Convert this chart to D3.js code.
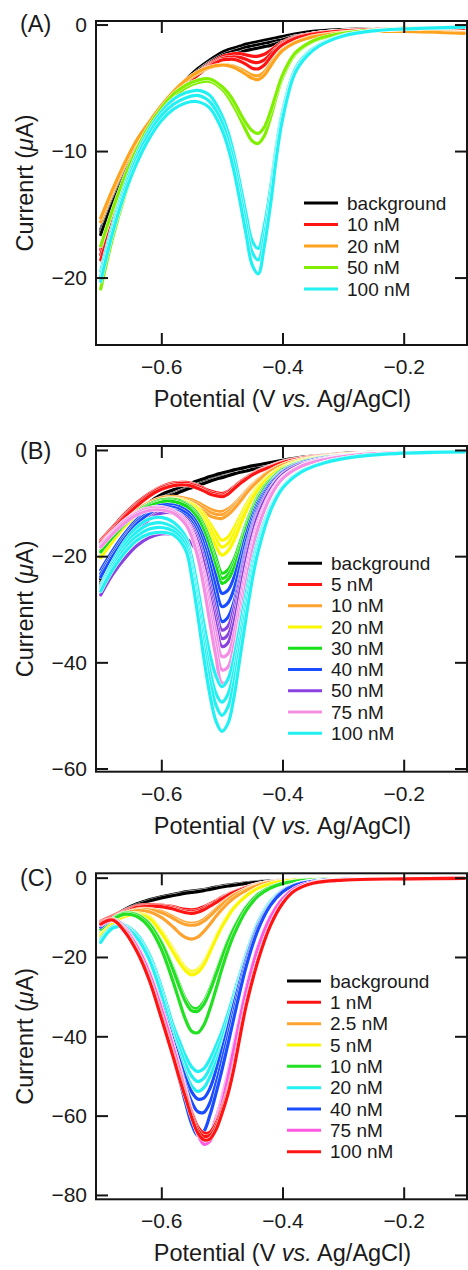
<!DOCTYPE html>
<html>
<head>
<meta charset="utf-8">
<script src="https://cdn.jsdelivr.net/npm/d3@7"></script>
<style>
  html, body { margin: 0; padding: 0; background: #fff; }
  svg { display: block; }
  text { font-family: "Liberation Sans", Arial, Helvetica, sans-serif; fill: #1a1a1a; }
</style>
</head>
<body>
<svg id="fig" width="468" height="1270"></svg>
<script>
// ---------- shared axis values ----------
const xLimits = [-0.7078, -0.0955];          // V vs. Ag/AgCl
const xTickValues = [-0.6, -0.4, -0.2];

// ---------- panel A : potentials (V) and current scans (µA) ----------
const potentialA = [-0.70,-0.68,-0.66,-0.64,-0.62,-0.60,-0.58,-0.56,-0.54,-0.52,-0.50,-0.49,-0.48,-0.47,-0.46,-0.45,-0.44,-0.43,-0.42,-0.41,-0.40,-0.38,-0.36,-0.34,-0.30,-0.25,-0.20,-0.10];
const namesA = ["background", "10 nM", "20 nM", "50 nM", "100 nM"];
const yTicksA = [0, -10, -20];
const scansA_bg = [
  [-16.2,-13.7,-11.5,-9.6,-8.0,-6.6,-5.4,-4.4,-3.5,-2.8,-2.2,-2.0,-1.85,-1.7,-1.55,-1.45,-1.35,-1.25,-1.15,-1.05,-0.95,-0.75,-0.6,-0.5,-0.4,-0.35,-0.3,-0.25],
  [-16.4,-13.9,-11.7,-9.8,-8.2,-6.8,-5.6,-4.6,-3.7,-3.0,-2.45,-2.25,-2.1,-1.95,-1.8,-1.7,-1.6,-1.5,-1.4,-1.3,-1.2,-0.95,-0.8,-0.65,-0.5,-0.4,-0.35,-0.3],
  [-16.6,-14.1,-11.9,-10.0,-8.4,-7.0,-5.8,-4.8,-3.9,-3.2,-2.7,-2.5,-2.35,-2.2,-2.05,-1.95,-1.85,-1.75,-1.65,-1.5,-1.4,-1.15,-0.95,-0.8,-0.6,-0.45,-0.35,-0.3]
];
const scansA_10 = [
  [-17.8,-14.9,-12.4,-10.3,-8.5,-7.0,-5.7,-4.7,-3.8,-3.1,-2.55,-2.4,-2.3,-2.3,-2.4,-2.5,-2.5,-2.35,-2.05,-1.7,-1.4,-1.0,-0.8,-0.65,-0.5,-0.4,-0.35,-0.3],
  [-18.2,-15.2,-12.6,-10.5,-8.7,-7.1,-5.8,-4.8,-3.9,-3.2,-2.7,-2.6,-2.55,-2.6,-2.75,-2.95,-3.0,-2.8,-2.35,-1.9,-1.5,-1.05,-0.8,-0.65,-0.5,-0.4,-0.35,-0.3],
  [-18.6,-15.5,-12.8,-10.7,-8.8,-7.2,-5.9,-4.9,-4.0,-3.3,-2.8,-2.75,-2.75,-2.9,-3.15,-3.45,-3.5,-3.2,-2.6,-2.0,-1.6,-1.1,-0.85,-0.7,-0.5,-0.4,-0.35,-0.3]
];
const scansA_20 = [
  [-15.6,-13.2,-11.1,-9.3,-7.8,-6.5,-5.4,-4.5,-3.85,-3.4,-3.2,-3.2,-3.3,-3.5,-3.75,-4.0,-4.05,-3.75,-3.1,-2.5,-2.0,-1.4,-1.05,-0.85,-0.6,-0.5,-0.5,-0.65],
  [-15.3,-13.0,-10.9,-9.1,-7.7,-6.4,-5.3,-4.4,-3.75,-3.35,-3.2,-3.25,-3.4,-3.65,-3.95,-4.25,-4.35,-4.0,-3.3,-2.6,-2.05,-1.45,-1.1,-0.9,-0.65,-0.55,-0.55,-0.7]
];
const scansA_50 = [
  [-20.9,-16.8,-13.5,-10.8,-8.7,-7.0,-5.8,-5.0,-4.6,-4.5,-5.1,-5.7,-6.5,-7.4,-8.4,-9.2,-9.4,-8.8,-7.4,-5.7,-4.2,-2.4,-1.6,-1.15,-0.7,-0.45,-0.3,-0.2],
  [-17.5,-14.6,-12.0,-9.8,-8.0,-6.6,-5.5,-4.8,-4.4,-4.3,-4.9,-5.4,-6.1,-7.0,-7.8,-8.4,-8.6,-8.1,-6.9,-5.4,-4.0,-2.3,-1.55,-1.1,-0.7,-0.45,-0.3,-0.2]
];
const scansA_100 = [
  [-19.5,-15.8,-12.7,-10.2,-8.3,-6.9,-5.9,-5.4,-5.2,-5.6,-7.2,-8.5,-10.3,-12.6,-15.0,-17.1,-17.7,-15.9,-13.0,-9.6,-6.9,-3.6,-2.3,-1.6,-0.85,-0.5,-0.35,-0.2],
  [-19.9,-16.1,-13.0,-10.5,-8.6,-7.2,-6.3,-5.8,-5.6,-6.1,-7.7,-9.1,-10.9,-13.3,-15.8,-18.0,-18.6,-16.7,-13.6,-10.0,-7.2,-3.8,-2.4,-1.65,-0.9,-0.5,-0.35,-0.2],
  [-20.3,-16.4,-13.3,-10.9,-9.0,-7.6,-6.7,-6.2,-6.1,-6.6,-8.3,-9.7,-11.6,-14.0,-16.6,-19.0,-19.7,-17.5,-14.3,-10.5,-7.5,-3.9,-2.5,-1.7,-0.9,-0.5,-0.35,-0.2]
];

// ---------- panel B ----------
const potentialB = [-0.70,-0.68,-0.66,-0.64,-0.62,-0.60,-0.58,-0.56,-0.55,-0.54,-0.53,-0.52,-0.51,-0.50,-0.49,-0.48,-0.47,-0.46,-0.45,-0.44,-0.42,-0.40,-0.37,-0.33,-0.28,-0.20,-0.10];
const namesB = ["background", "5 nM", "10 nM", "20 nM", "30 nM", "40 nM", "50 nM", "75 nM", "100 nM"];
const yTicksB = [0, -20, -40, -60];
const scansB_bg = [
  [-24.8,-20.5,-16.5,-13.0,-10.3,-8.8,-7.9,-7.0,-6.6,-6.2,-5.8,-5.4,-5.0,-4.7,-4.4,-4.1,-3.8,-3.55,-3.3,-3.05,-2.55,-2.1,-1.5,-1.0,-0.6,-0.35,-0.25],
  [-25.3,-21.0,-17.0,-13.5,-10.8,-9.3,-8.4,-7.5,-7.1,-6.7,-6.3,-5.9,-5.5,-5.2,-4.85,-4.5,-4.2,-3.95,-3.65,-3.35,-2.8,-2.3,-1.6,-1.05,-0.65,-0.35,-0.25],
  [-24.3,-20.0,-16.0,-12.5,-9.9,-8.4,-7.5,-6.6,-6.2,-5.8,-5.4,-5.0,-4.65,-4.35,-4.05,-3.75,-3.5,-3.25,-3.0,-2.8,-2.35,-1.95,-1.4,-0.95,-0.55,-0.3,-0.25]
];
const scansB_5 = [
  [-17.0,-14.5,-12.0,-9.9,-8.2,-6.9,-6.2,-6.1,-6.3,-6.7,-7.2,-7.7,-8.0,-8.2,-7.8,-6.9,-6.0,-5.2,-4.5,-3.9,-3.0,-2.2,-1.5,-1.0,-0.6,-0.35,-0.25],
  [-17.3,-14.8,-12.3,-10.2,-8.4,-7.1,-6.4,-6.3,-6.5,-6.9,-7.4,-8.0,-8.3,-8.5,-8.0,-7.0,-6.1,-5.3,-4.6,-4.0,-3.1,-2.3,-1.6,-1.05,-0.65,-0.35,-0.25],
  [-17.6,-15.1,-12.6,-10.5,-8.7,-7.4,-6.7,-6.6,-6.8,-7.2,-7.7,-8.3,-8.6,-8.8,-8.3,-7.3,-6.3,-5.5,-4.7,-4.1,-3.2,-2.35,-1.6,-1.05,-0.65,-0.35,-0.25]
];
const scansB_10 = [
  [-19.2,-16.2,-13.5,-11.4,-9.9,-9.0,-8.8,-9.1,-9.4,-9.9,-10.5,-11.1,-11.5,-11.6,-11.1,-10.2,-9.0,-7.7,-6.5,-5.5,-3.85,-2.75,-1.8,-1.15,-0.7,-0.4,-0.25],
  [-19.5,-16.5,-13.8,-11.7,-10.2,-9.3,-9.1,-9.4,-9.8,-10.3,-11.0,-11.7,-12.1,-12.2,-11.6,-10.6,-9.3,-7.9,-6.7,-5.6,-3.9,-2.8,-1.8,-1.15,-0.7,-0.4,-0.25],
  [-19.8,-16.8,-14.1,-12.0,-10.5,-9.6,-9.4,-9.7,-10.2,-10.8,-11.6,-12.4,-12.8,-12.9,-12.2,-11.1,-9.7,-8.2,-6.9,-5.8,-4.0,-2.85,-1.85,-1.2,-0.7,-0.4,-0.25]
];
const scansB_20 = [
  [-19.8,-16.7,-13.9,-11.8,-10.3,-9.4,-9.2,-9.6,-10.1,-10.9,-12.1,-13.8,-15.6,-17.0,-16.4,-14.7,-12.5,-10.3,-8.4,-6.8,-4.6,-3.2,-2.0,-1.25,-0.75,-0.4,-0.25],
  [-20.0,-16.9,-14.1,-12.0,-10.5,-9.6,-9.4,-9.8,-10.4,-11.3,-12.7,-14.6,-16.8,-18.3,-17.6,-15.8,-13.3,-10.9,-8.8,-7.1,-4.7,-3.25,-2.0,-1.25,-0.75,-0.4,-0.25],
  [-20.3,-17.2,-14.4,-12.3,-10.8,-9.9,-9.7,-10.1,-10.8,-11.8,-13.4,-15.6,-18.1,-19.8,-19.0,-17.0,-14.2,-11.5,-9.2,-7.4,-4.9,-3.35,-2.05,-1.3,-0.75,-0.4,-0.25]
];
const scansB_30 = [
  [-18.8,-16.0,-13.5,-11.6,-10.2,-9.4,-9.3,-10.0,-10.8,-12.1,-14.1,-16.9,-20.2,-23.2,-22.6,-20.6,-17.4,-13.9,-11.0,-8.6,-5.5,-3.6,-2.2,-1.35,-0.8,-0.45,-0.3],
  [-19.0,-16.2,-13.7,-11.8,-10.4,-9.6,-9.5,-10.2,-11.1,-12.5,-14.7,-17.7,-21.2,-24.2,-23.5,-21.4,-18.1,-14.4,-11.4,-8.9,-5.7,-3.7,-2.25,-1.35,-0.8,-0.45,-0.3],
  [-19.2,-16.4,-13.9,-12.0,-10.6,-9.8,-9.7,-10.5,-11.4,-12.9,-15.2,-18.4,-22.0,-25.1,-24.4,-22.2,-18.8,-14.9,-11.8,-9.2,-5.8,-3.75,-2.3,-1.4,-0.8,-0.45,-0.3]
];
const scansB_40 = [
  [-22.6,-18.9,-15.7,-13.1,-11.3,-10.4,-10.4,-11.3,-12.3,-14.0,-16.6,-20.0,-23.8,-27.0,-26.4,-24.0,-20.2,-16.0,-12.6,-9.8,-6.2,-4.0,-2.45,-1.45,-0.85,-0.45,-0.3],
  [-23.3,-19.5,-16.2,-13.5,-11.7,-10.8,-10.8,-11.8,-12.9,-14.8,-17.7,-21.6,-25.9,-29.5,-28.8,-26.2,-21.9,-17.2,-13.4,-10.3,-6.4,-4.1,-2.5,-1.5,-0.85,-0.45,-0.3],
  [-23.9,-20.0,-16.6,-13.9,-12.1,-11.2,-11.3,-12.4,-13.6,-15.7,-19.0,-23.4,-28.2,-32.3,-31.5,-28.6,-23.8,-18.5,-14.3,-10.9,-6.7,-4.25,-2.55,-1.5,-0.85,-0.45,-0.3]
];
const scansB_50 = [
  [-26.6,-22.1,-18.2,-15.0,-12.8,-11.6,-11.6,-12.8,-14.2,-16.6,-20.3,-25.1,-30.0,-33.9,-33.2,-29.7,-24.4,-19.1,-14.8,-11.4,-7.1,-4.5,-2.7,-1.6,-0.9,-0.5,-0.3],
  [-27.0,-22.5,-18.6,-15.4,-13.1,-11.9,-11.9,-13.2,-14.7,-17.3,-21.2,-26.3,-31.4,-35.5,-34.8,-31.1,-25.5,-19.9,-15.3,-11.8,-7.3,-4.6,-2.75,-1.6,-0.9,-0.5,-0.3],
  [-27.3,-23.4,-20.4,-18.0,-16.5,-15.8,-15.9,-16.6,-17.6,-19.5,-22.8,-27.5,-32.7,-37.0,-36.3,-32.5,-26.6,-20.7,-15.9,-12.2,-7.5,-4.7,-2.8,-1.65,-0.9,-0.5,-0.3]
];
const scansB_75 = [
  [-17.8,-15.3,-13.2,-11.7,-10.9,-10.8,-11.4,-13.2,-15.1,-18.3,-23.0,-28.8,-34.4,-38.9,-38.4,-34.6,-28.6,-22.5,-17.4,-13.4,-8.2,-5.1,-3.0,-1.75,-0.95,-0.5,-0.3],
  [-18.0,-15.5,-13.4,-11.9,-11.1,-11.0,-11.6,-13.6,-15.7,-19.2,-24.3,-30.6,-36.6,-41.4,-40.9,-36.8,-30.4,-23.8,-18.3,-14.0,-8.5,-5.25,-3.05,-1.75,-0.95,-0.5,-0.3],
  [-18.3,-15.8,-13.7,-12.2,-11.4,-11.3,-11.9,-14.0,-16.3,-20.1,-25.6,-32.4,-38.8,-43.9,-43.4,-39.0,-32.2,-25.1,-19.2,-14.6,-8.8,-5.4,-3.1,-1.8,-0.95,-0.5,-0.3]
];
const scansB_100 = [
  [-25.6,-21.0,-17.2,-14.5,-13.0,-12.7,-13.6,-16.3,-20.2,-26.0,-32.6,-38.4,-42.5,-44.6,-43.2,-39.0,-33.0,-27.0,-21.3,-16.9,-10.7,-6.9,-4.0,-2.3,-1.25,-0.6,-0.35],
  [-26.0,-21.5,-17.9,-15.4,-14.0,-13.7,-14.6,-17.2,-21.6,-28.0,-35.2,-41.4,-45.8,-47.5,-46.0,-41.6,-35.1,-28.5,-22.4,-17.6,-11.0,-7.0,-4.05,-2.3,-1.25,-0.6,-0.35],
  [-26.3,-22.0,-18.6,-16.2,-14.9,-14.6,-15.3,-18.0,-22.6,-29.5,-37.0,-43.4,-48.0,-50.0,-48.4,-43.7,-36.8,-29.8,-23.3,-18.2,-11.2,-7.1,-4.1,-2.35,-1.25,-0.6,-0.35],
  [-26.6,-22.5,-19.3,-17.0,-15.8,-15.5,-16.0,-18.8,-23.8,-31.0,-39.0,-46.0,-51.0,-53.0,-51.5,-46.5,-39.0,-31.5,-24.5,-19.0,-11.5,-7.2,-4.2,-2.4,-1.3,-0.6,-0.35]
];

// ---------- panel C ----------
const potentialC = [-0.70,-0.68,-0.66,-0.64,-0.62,-0.60,-0.58,-0.57,-0.56,-0.55,-0.54,-0.53,-0.52,-0.51,-0.50,-0.49,-0.48,-0.46,-0.44,-0.42,-0.40,-0.38,-0.35,-0.30,-0.20,-0.10];
const namesC = ["background", "1 nM", "2.5 nM", "5 nM", "10 nM", "20 nM", "40 nM", "75 nM", "100 nM"];
const yTicksC = [0, -20, -40, -60, -80];
const scansC_bg = [
  [-11.5,-9.8,-8.0,-6.6,-5.6,-4.8,-4.2,-3.9,-3.6,-3.4,-3.2,-3.0,-2.7,-2.4,-2.1,-1.9,-1.7,-1.3,-1.0,-0.8,-0.6,-0.5,-0.4,-0.3,-0.25,-0.2],
  [-11.8,-10.1,-8.3,-6.9,-5.9,-5.1,-4.5,-4.2,-3.9,-3.7,-3.5,-3.25,-2.95,-2.65,-2.35,-2.1,-1.9,-1.45,-1.1,-0.85,-0.65,-0.5,-0.4,-0.3,-0.25,-0.2]
];
const scansC_1 = [
  [-11.0,-9.6,-8.3,-7.1,-6.8,-6.9,-7.3,-7.7,-8.0,-8.1,-7.9,-7.3,-6.6,-5.8,-4.9,-4.2,-3.5,-2.4,-1.55,-1.0,-0.7,-0.5,-0.35,-0.3,-0.25,-0.2],
  [-11.2,-9.8,-8.5,-7.3,-7.0,-7.1,-7.6,-8.1,-8.5,-8.6,-8.3,-7.7,-6.9,-6.0,-5.1,-4.3,-3.6,-2.5,-1.6,-1.0,-0.7,-0.5,-0.35,-0.3,-0.25,-0.2],
  [-11.4,-10.0,-8.7,-7.5,-7.2,-7.3,-7.9,-8.4,-8.8,-9.0,-8.7,-8.1,-7.2,-6.3,-5.3,-4.4,-3.7,-2.55,-1.65,-1.05,-0.7,-0.5,-0.35,-0.3,-0.25,-0.2]
];
const scansC_2p5 = [
  [-13.5,-10.8,-8.9,-8.0,-7.9,-8.5,-9.9,-10.7,-11.3,-11.5,-11.3,-10.5,-9.3,-7.9,-6.5,-5.3,-4.3,-2.8,-1.7,-1.1,-0.75,-0.5,-0.4,-0.3,-0.25,-0.2],
  [-13.8,-11.0,-9.1,-8.2,-8.1,-8.8,-10.3,-11.2,-11.8,-12.0,-11.8,-11.0,-9.7,-8.2,-6.8,-5.5,-4.4,-2.9,-1.75,-1.1,-0.75,-0.5,-0.4,-0.3,-0.25,-0.2],
  [-14.0,-11.0,-9.0,-8.3,-8.6,-10.0,-12.5,-14.0,-15.1,-15.5,-15.0,-13.6,-11.8,-9.8,-8.0,-6.4,-5.1,-3.2,-1.9,-1.2,-0.8,-0.55,-0.4,-0.3,-0.25,-0.2]
];
const scansC_5 = [
  [-14.2,-11.1,-9.3,-9.0,-9.8,-13.3,-18.1,-20.6,-22.7,-23.7,-23.1,-21.2,-18.2,-14.9,-12.0,-9.4,-7.4,-4.4,-2.55,-1.5,-0.95,-0.6,-0.4,-0.3,-0.25,-0.2],
  [-14.5,-11.3,-9.5,-9.2,-10.0,-13.6,-18.5,-21.0,-23.1,-24.1,-23.5,-21.6,-18.5,-15.2,-12.2,-9.6,-7.5,-4.5,-2.6,-1.5,-0.95,-0.6,-0.4,-0.3,-0.25,-0.2],
  [-14.8,-11.5,-9.7,-9.4,-10.2,-13.9,-18.9,-21.4,-23.5,-24.5,-23.9,-22.0,-18.8,-15.5,-12.4,-9.8,-7.6,-4.6,-2.65,-1.55,-0.95,-0.6,-0.4,-0.3,-0.25,-0.2]
];
const scansC_10 = [
  [-12.6,-10.2,-8.9,-9.3,-11.5,-16.2,-23.0,-27.0,-30.6,-32.7,-32.9,-31.3,-28.1,-24.0,-19.8,-15.9,-12.6,-7.4,-4.1,-2.35,-1.4,-0.85,-0.5,-0.35,-0.25,-0.2],
  [-12.8,-10.3,-9.0,-9.4,-11.7,-16.5,-23.5,-27.6,-31.3,-33.5,-33.7,-32.0,-28.7,-24.5,-20.2,-16.2,-12.8,-7.5,-4.2,-2.4,-1.4,-0.85,-0.5,-0.35,-0.25,-0.2],
  [-13.0,-10.5,-9.2,-9.8,-12.5,-18.0,-26.5,-31.3,-35.8,-38.7,-39.1,-37.2,-33.2,-28.2,-23.0,-18.3,-14.3,-8.3,-4.6,-2.6,-1.5,-0.9,-0.55,-0.35,-0.25,-0.2]
];
const scansC_20 = [
  [-15.5,-12.3,-12.0,-14.3,-19.3,-27.5,-37.5,-41.3,-45.0,-47.7,-48.9,-48.2,-45.8,-42.5,-38.8,-34.3,-29.3,-19.3,-11.1,-5.9,-3.1,-1.65,-0.8,-0.4,-0.25,-0.2],
  [-16.0,-12.5,-12.3,-14.8,-20.0,-28.5,-39.0,-43.0,-47.0,-50.0,-51.4,-50.6,-48.0,-44.5,-40.6,-35.8,-30.5,-20.0,-11.5,-6.1,-3.2,-1.7,-0.8,-0.4,-0.25,-0.2],
  [-16.3,-12.7,-12.5,-15.2,-20.6,-29.5,-40.5,-44.8,-49.2,-52.5,-53.9,-53.0,-50.3,-46.6,-42.5,-37.4,-31.8,-20.8,-12.0,-6.3,-3.3,-1.75,-0.85,-0.4,-0.25,-0.2]
];
const scansC_40 = [
  [-12.2,-10.5,-12.4,-17.0,-23.5,-32.0,-41.3,-46.0,-50.5,-54.0,-55.8,-55.6,-53.2,-48.8,-43.5,-37.8,-31.8,-20.6,-12.0,-6.6,-3.4,-1.8,-0.9,-0.45,-0.25,-0.2],
  [-12.3,-10.6,-12.6,-17.3,-24.0,-32.8,-42.5,-47.5,-52.5,-56.5,-59.0,-59.2,-56.8,-52.0,-46.2,-40.0,-33.5,-21.5,-12.5,-6.8,-3.5,-1.85,-0.9,-0.45,-0.25,-0.2],
  [-12.5,-10.8,-13.0,-18.0,-25.0,-34.5,-45.5,-51.0,-56.8,-62.0,-65.0,-64.0,-60.0,-54.5,-48.5,-42.0,-35.2,-22.4,-13.0,-7.0,-3.6,-1.9,-0.9,-0.45,-0.25,-0.2]
];
const scansC_75 = [
  [-11.8,-10.6,-12.8,-17.2,-23.6,-32.5,-42.4,-47.8,-53.3,-58.6,-63.0,-65.3,-64.6,-60.8,-55.5,-49.2,-42.0,-28.0,-17.2,-9.9,-5.3,-2.7,-1.2,-0.5,-0.3,-0.2],
  [-11.9,-10.7,-12.9,-17.4,-23.8,-32.8,-42.7,-48.2,-53.7,-59.1,-63.8,-66.3,-65.6,-61.7,-56.2,-49.8,-42.5,-28.3,-17.4,-10.0,-5.3,-2.7,-1.2,-0.5,-0.3,-0.2],
  [-12.0,-10.8,-13.0,-17.5,-24.0,-33.0,-43.0,-48.5,-54.0,-59.5,-64.5,-67.2,-66.5,-62.5,-57.0,-50.5,-43.0,-28.5,-17.5,-10.0,-5.3,-2.7,-1.2,-0.5,-0.3,-0.2]
];
const scansC_100 = [
  [-11.3,-10.5,-13.3,-18.3,-25.2,-34.6,-44.6,-49.7,-54.5,-59.2,-62.8,-64.4,-64.2,-62.0,-58.2,-53.5,-47.0,-31.7,-20.3,-11.9,-6.4,-3.3,-1.4,-0.6,-0.3,-0.2],
  [-11.5,-10.6,-13.5,-18.5,-25.5,-35.0,-45.0,-50.2,-55.0,-59.8,-63.5,-65.2,-65.0,-62.8,-58.8,-54.0,-47.5,-32.0,-20.5,-12.0,-6.5,-3.3,-1.4,-0.6,-0.3,-0.2],
  [-11.7,-10.7,-13.7,-18.7,-25.8,-35.4,-45.4,-50.7,-55.5,-60.4,-64.3,-66.1,-65.9,-63.6,-59.5,-54.6,-48.0,-32.3,-20.7,-12.1,-6.5,-3.3,-1.4,-0.6,-0.3,-0.2]
];

// ---------- colours ----------
const colorsA = ["#000000", "#ff1414", "#ffa31f", "#80f000", "#22f0f2"];
const colorsB = ["#000000", "#ff1414", "#ffa330", "#fbf700", "#17e017", "#1a4dff", "#8a42e0", "#f48fe4", "#22f0f2"];
const colorsC = ["#000000", "#ff1414", "#ffa330", "#fbf700", "#22e022", "#22f0f2", "#1a4dff", "#ff5ae2", "#ff1414"];

// ---------- layout of the three stacked panels ----------
const panels = [
  { tag: "(A)", potential: potentialA, names: namesA, colors: colorsA,
    scans: [scansA_bg, scansA_10, scansA_20, scansA_50, scansA_100],
    yTicks: yTicksA, yLim: [-25.33, 0.28], top: 21, bottom: 345,
    tagY: 31.5, legendX: 304, legendY: 203, legendStep: 21.5 },
  { tag: "(B)", potential: potentialB, names: namesB, colors: colorsB,
    scans: [scansB_bg, scansB_5, scansB_10, scansB_20, scansB_30, scansB_40, scansB_50, scansB_75, scansB_100],
    yTicks: yTicksB, yLim: [-60.6, 0.75], top: 446, bottom: 771.7,
    tagY: 458.5, legendX: 288, legendY: 563.3, legendStep: 21.25 },
  { tag: "(C)", potential: potentialC, names: namesC, colors: colorsC,
    scans: [scansC_bg, scansC_1, scansC_2p5, scansC_5, scansC_10, scansC_20, scansC_40, scansC_75, scansC_100],
    yTicks: yTicksC, yLim: [-81.1, 1.1], top: 873.3, bottom: 1199.3,
    tagY: 886, legendX: 287, legendY: 981, legendStep: 21.33 }
];

const plotLeft = 96, plotRight = 467;
const svg = d3.select("#fig");
const x = d3.scaleLinear().domain(xLimits).range([plotLeft, plotRight]);
const ink = "#151515";

function styleAxis(sel, size) {
  sel.select(".domain").remove();
  sel.attr("font-family", null).attr("font-size", null).attr("color", ink);
  sel.selectAll(".tick line").attr("stroke-width", 2);
  sel.selectAll(".tick text").attr("font-size", size).style("fill", "#1a1a1a");
}

panels.forEach((p, pi) => {
  const y = d3.scaleLinear().domain(p.yLim).range([p.bottom, p.top]);
  const g = svg.append("g");

  const clipId = "plot-clip-" + pi;
  svg.append("clipPath").attr("id", clipId)
    .append("rect").attr("x", plotLeft).attr("y", p.top)
    .attr("width", plotRight - plotLeft).attr("height", p.bottom - p.top);

  const line = d3.line()
    .x((d, i) => x(p.potential[i]))
    .y(d => y(d))
    .curve(d3.curveCatmullRom.alpha(0.5));

  // voltammograms: every scan gets a thin white casing, then its colour
  const curves = g.append("g").attr("clip-path", `url(#${clipId})`);
  p.scans.forEach((group, gi) => {
    group.forEach(scan => {
      curves.append("path").attr("d", line(scan))
        .attr("fill", "none").attr("stroke", "#ffffff")
        .attr("stroke-width", 4.0).attr("stroke-linejoin", "round").attr("stroke-linecap", "round");
      curves.append("path").attr("d", line(scan))
        .attr("fill", "none").attr("stroke", p.colors[gi])
        .attr("stroke-width", 3.2).attr("stroke-linejoin", "round").attr("stroke-linecap", "round");
    });
  });

  // axes with inward ticks on all four sides
  const fmtY = d3.format("d"), fmtX = d3.format(".1f");
  g.append("g").attr("transform", `translate(${plotLeft},0)`)
    .call(d3.axisLeft(y).tickValues(p.yTicks).tickSizeInner(-12).tickSizeOuter(0).tickPadding(9).tickFormat(fmtY))
    .call(s => styleAxis(s, 21));
  g.append("g").attr("transform", `translate(${plotRight},0)`)
    .call(d3.axisRight(y).tickValues(p.yTicks).tickSizeInner(-12).tickSizeOuter(0).tickFormat(""))
    .call(s => styleAxis(s, 21));
  g.append("g").attr("transform", `translate(0,${p.bottom})`)
    .call(d3.axisBottom(x).tickValues(xTickValues).tickSizeInner(-12).tickSizeOuter(0).tickPadding(14).tickFormat(fmtX))
    .call(s => styleAxis(s, 21));
  g.append("g").attr("transform", `translate(0,${p.top})`)
    .call(d3.axisTop(x).tickValues(xTickValues).tickSizeInner(-12).tickSizeOuter(0).tickFormat(""))
    .call(s => styleAxis(s, 21));

  // frame
  g.append("rect").attr("x", plotLeft).attr("y", p.top)
    .attr("width", plotRight - plotLeft).attr("height", p.bottom - p.top)
    .attr("fill", "none").attr("stroke", ink).attr("stroke-width", 2);

  // panel tag
  g.append("text").attr("x", 20).attr("y", p.tagY).attr("font-size", 23.5).text(p.tag);

  // axis titles
  const xt = g.append("text").attr("x", 282.5).attr("y", p.bottom + 62)
    .attr("text-anchor", "middle").attr("font-size", 23.5);
  xt.append("tspan").text("Potential (V ");
  xt.append("tspan").attr("font-style", "italic").text("vs.");
  xt.append("tspan").text(" Ag/AgCl)");

  const yt = g.append("text")
    .attr("transform", `translate(32.5,${(p.top + p.bottom) / 2}) rotate(-90)`)
    .attr("text-anchor", "middle").attr("font-size", 23.5);
  yt.append("tspan").text("Currenrt (");
  yt.append("tspan").attr("font-style", "italic").text("\u03bc");
  yt.append("tspan").text("A)");

  // legend
  p.names.forEach((name, i) => {
    const ly = p.legendY + i * p.legendStep;
    g.append("line").attr("x1", p.legendX).attr("x2", p.legendX + 34)
      .attr("y1", ly).attr("y2", ly)
      .attr("stroke", p.colors[i]).attr("stroke-width", 3);
    g.append("text").attr("x", p.legendX + 43).attr("y", ly).attr("dy", "0.35em")
      .attr("font-size", 19).text(name);
  });
});
</script>
</body>
</html>
